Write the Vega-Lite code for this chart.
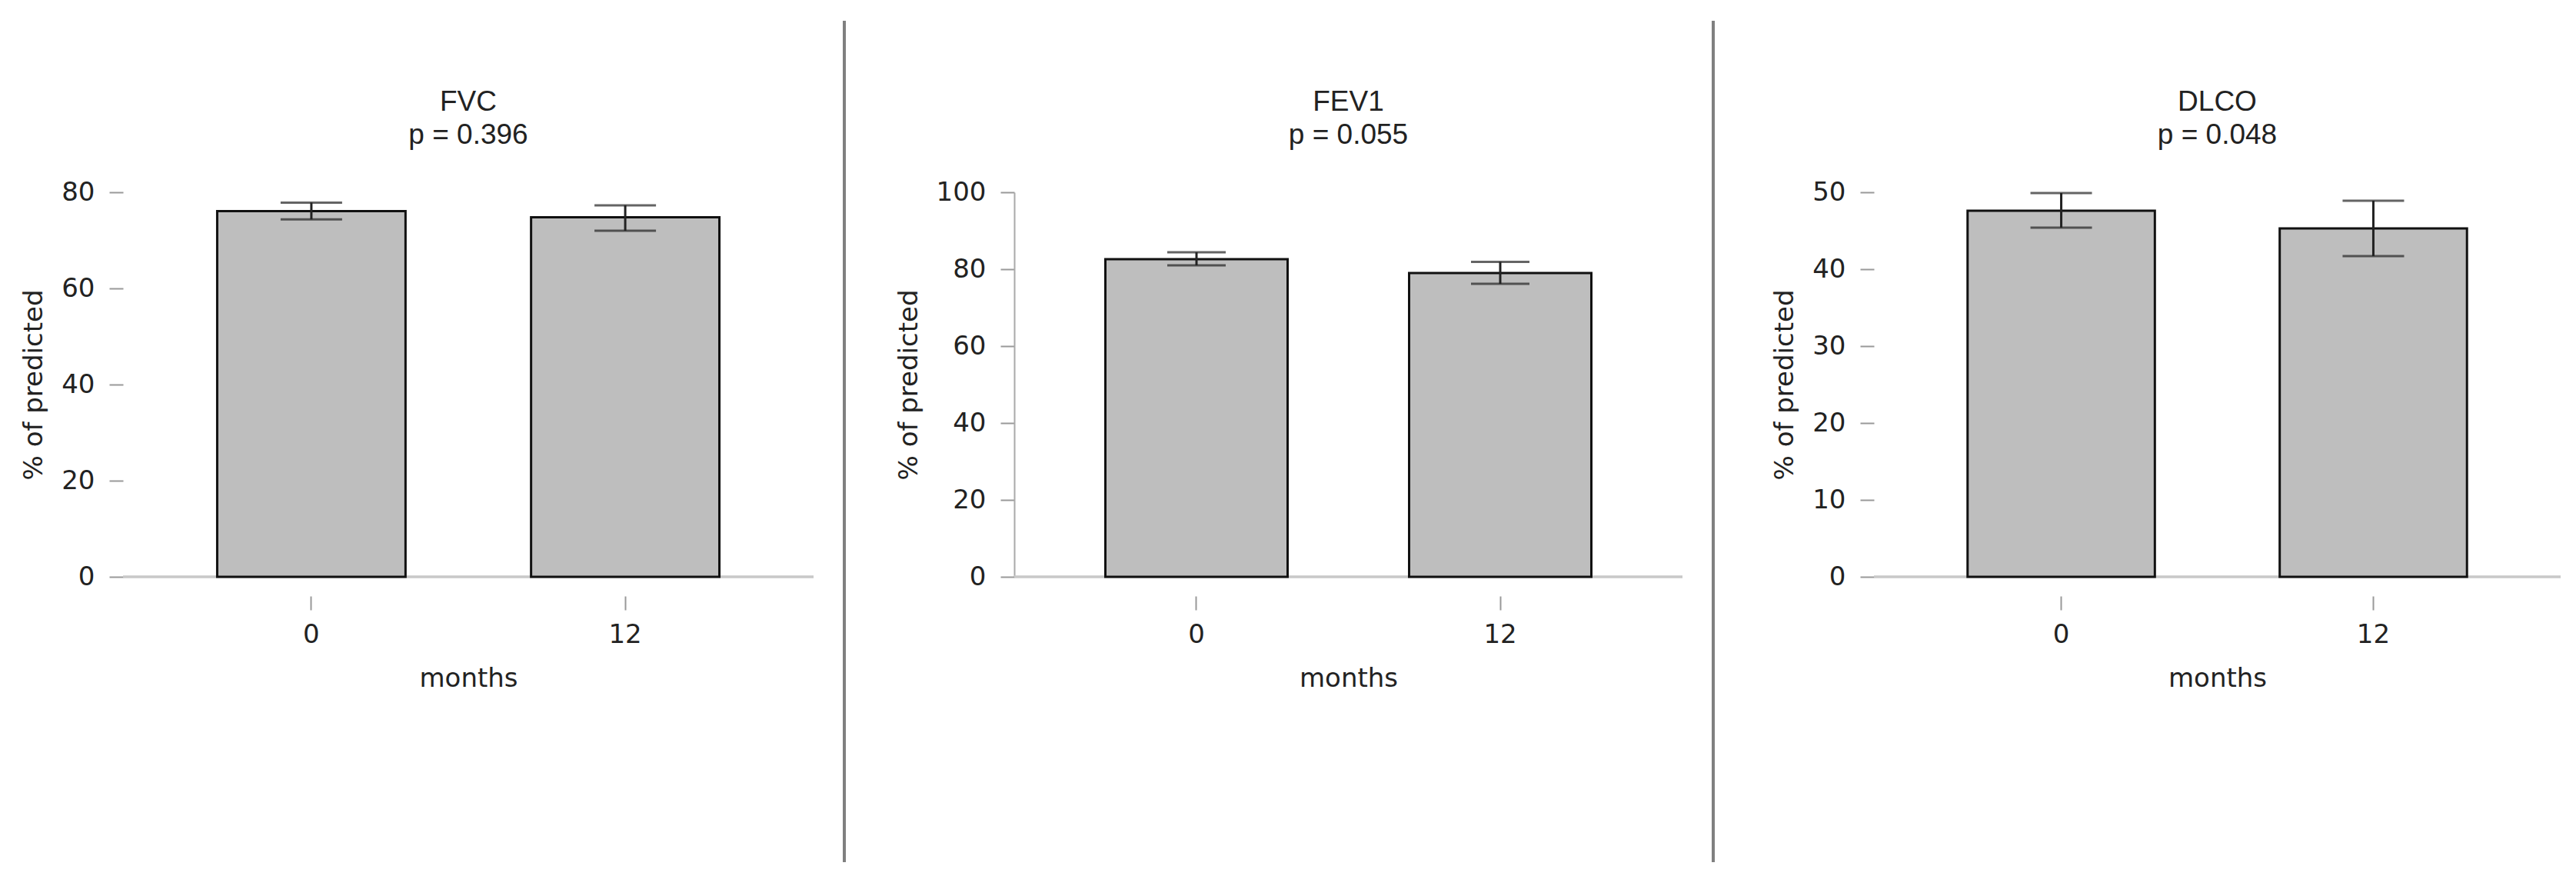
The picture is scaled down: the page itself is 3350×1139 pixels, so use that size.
{
  "$schema": "https://vega.github.io/schema/vega-lite/v6.json",
  "background": "white",
  "padding": {"left": 27, "top": 25, "right": 0, "bottom": 0},
  "bounds": "flush",
  "spacing": 40,
  "datasets": {
    "d": [
      {"measure": "FVC", "month": "0", "mean": 76.1, "lo": 74.35, "hi": 77.85},
      {"measure": "FVC", "month": "12", "mean": 74.8, "lo": 72.0, "hi": 77.3},
      {"measure": "FEV1", "month": "0", "mean": 82.6, "lo": 81.0, "hi": 84.4},
      {"measure": "FEV1", "month": "12", "mean": 79.0, "lo": 76.2, "hi": 81.9},
      {"measure": "DLCO", "month": "0", "mean": 47.6, "lo": 45.4, "hi": 49.9},
      {"measure": "DLCO", "month": "12", "mean": 45.3, "lo": 41.7, "hi": 48.9}
    ]
  },
  "hconcat": [
    {
      "width": 898, "height": 500,
      "title": {"text": ["FVC", "p = 0.396"]},
      "data": {"name": "d"},
      "transform": [{"filter": "datum.measure === 'FVC'"}],
      "layer": [
        {"mark": {"type": "rule", "color": "#c8c8c8", "strokeWidth": 3},
         "encoding": {"y": {"datum": 0, "type": "quantitative", "scale": {"domain": [0, 80], "nice": false}, "title": "% of predicted"}}},
        {"mark": {"type": "bar", "fill": "#bebebe", "stroke": "#111", "strokeWidth": 3},
         "encoding": {
           "x": {"field": "month", "type": "ordinal", "sort": ["0", "12"], "scale": {"paddingInner": 0.4, "paddingOuter": 0.3}, "title": "months"},
           "y": {"field": "mean", "type": "quantitative", "scale": {"domain": [0, 80], "nice": false}, "title": "% of predicted", "axis": {"values": [0, 20, 40, 60, 80], "domain": false}}}},
        {"mark": {"type": "rule", "color": "#222", "strokeWidth": 3},
         "encoding": {"x": {"field": "month", "type": "ordinal", "sort": ["0", "12"], "title": "months"},
           "y": {"field": "lo", "type": "quantitative", "title": "% of predicted"}, "y2": {"field": "hi"}}},
        {"mark": {"type": "tick", "color": "#222", "size": 80, "thickness": 3},
         "encoding": {"x": {"field": "month", "type": "ordinal", "sort": ["0", "12"], "title": "months"},
           "y": {"field": "lo", "type": "quantitative", "title": "% of predicted"}}},
        {"mark": {"type": "tick", "color": "#222", "size": 80, "thickness": 3},
         "encoding": {"x": {"field": "month", "type": "ordinal", "sort": ["0", "12"], "title": "months"},
           "y": {"field": "hi", "type": "quantitative", "title": "% of predicted"}}}
      ]
    },
    {
      "width": 181, "height": 500,
      "data": {"values": [{}]},
      "mark": {"type": "rule", "color": "#808080", "strokeWidth": 4},
      "encoding": {
        "x": {"datum": 0, "type": "quantitative", "scale": {"domain": [0, 1]}, "axis": null},
        "y": {"datum": 1.446, "type": "quantitative", "scale": {"domain": [0, 1]}, "axis": null},
        "y2": {"datum": -0.742}
      }
    },
    {
      "width": 869, "height": 500,
      "title": {"text": ["FEV1", "p = 0.055"]},
      "data": {"name": "d"},
      "transform": [{"filter": "datum.measure === 'FEV1'"}],
      "layer": [
        {"mark": {"type": "rule", "color": "#c8c8c8", "strokeWidth": 3},
         "encoding": {"y": {"datum": 0, "type": "quantitative", "scale": {"domain": [0, 100], "nice": false}, "title": "% of predicted"}}},
        {"mark": {"type": "bar", "fill": "#bebebe", "stroke": "#111", "strokeWidth": 3},
         "encoding": {
           "x": {"field": "month", "type": "ordinal", "sort": ["0", "12"], "scale": {"paddingInner": 0.4, "paddingOuter": 0.3}, "title": "months"},
           "y": {"field": "mean", "type": "quantitative", "scale": {"domain": [0, 100], "nice": false}, "title": "% of predicted", "axis": {"values": [0, 20, 40, 60, 80, 100], "domain": true, "domainColor": "#aaa", "domainWidth": 2}}}},
        {"mark": {"type": "rule", "color": "#222", "strokeWidth": 3},
         "encoding": {"x": {"field": "month", "type": "ordinal", "sort": ["0", "12"], "title": "months"},
           "y": {"field": "lo", "type": "quantitative", "title": "% of predicted"}, "y2": {"field": "hi"}}},
        {"mark": {"type": "tick", "color": "#222", "size": 76, "thickness": 3},
         "encoding": {"x": {"field": "month", "type": "ordinal", "sort": ["0", "12"], "title": "months"},
           "y": {"field": "lo", "type": "quantitative", "title": "% of predicted"}}},
        {"mark": {"type": "tick", "color": "#222", "size": 76, "thickness": 3},
         "encoding": {"x": {"field": "month", "type": "ordinal", "sort": ["0", "12"], "title": "months"},
           "y": {"field": "hi", "type": "quantitative", "title": "% of predicted"}}}
      ]
    },
    {
      "width": 169, "height": 500,
      "data": {"values": [{}]},
      "mark": {"type": "rule", "color": "#808080", "strokeWidth": 4},
      "encoding": {
        "x": {"datum": 0, "type": "quantitative", "scale": {"domain": [0, 1]}, "axis": null},
        "y": {"datum": 1.446, "type": "quantitative", "scale": {"domain": [0, 1]}, "axis": null},
        "y2": {"datum": -0.742}
      }
    },
    {
      "width": 893, "height": 500,
      "title": {"text": ["DLCO", "p = 0.048"]},
      "data": {"name": "d"},
      "transform": [{"filter": "datum.measure === 'DLCO'"}],
      "layer": [
        {"mark": {"type": "rule", "color": "#c8c8c8", "strokeWidth": 3},
         "encoding": {"y": {"datum": 0, "type": "quantitative", "scale": {"domain": [0, 50], "nice": false}, "title": "% of predicted"}}},
        {"mark": {"type": "bar", "fill": "#bebebe", "stroke": "#111", "strokeWidth": 3},
         "encoding": {
           "x": {"field": "month", "type": "ordinal", "sort": ["0", "12"], "scale": {"paddingInner": 0.4, "paddingOuter": 0.3}, "title": "months"},
           "y": {"field": "mean", "type": "quantitative", "scale": {"domain": [0, 50], "nice": false}, "title": "% of predicted", "axis": {"values": [0, 10, 20, 30, 40, 50], "domain": false}}}},
        {"mark": {"type": "rule", "color": "#222", "strokeWidth": 3},
         "encoding": {"x": {"field": "month", "type": "ordinal", "sort": ["0", "12"], "title": "months"},
           "y": {"field": "lo", "type": "quantitative", "title": "% of predicted"}, "y2": {"field": "hi"}}},
        {"mark": {"type": "tick", "color": "#222", "size": 80, "thickness": 3},
         "encoding": {"x": {"field": "month", "type": "ordinal", "sort": ["0", "12"], "title": "months"},
           "y": {"field": "lo", "type": "quantitative", "title": "% of predicted"}}},
        {"mark": {"type": "tick", "color": "#222", "size": 80, "thickness": 3},
         "encoding": {"x": {"field": "month", "type": "ordinal", "sort": ["0", "12"], "title": "months"},
           "y": {"field": "hi", "type": "quantitative", "title": "% of predicted"}}}
      ]
    }
  ],
  "config": {
    "view": {"stroke": null},
    "title": {"font": "Liberation Sans", "fontSize": 37, "fontWeight": "normal", "color": "#222", "offset": 38, "lineHeight": 43, "anchor": "middle"},
    "axis": {
      "grid": false,
      "labelFont": "DejaVu Sans", "labelFontSize": 34, "labelColor": "#222",
      "titleFont": "DejaVu Sans", "titleFontSize": 34, "titleFontWeight": "normal", "titleColor": "#222",
      "tickColor": "#999", "tickWidth": 2, "tickSize": 18
    },
    "axisY": {"labelPadding": 19, "titlePadding": 18},
    "axisX": {"domain": false, "offset": 25, "labelPadding": 15, "labelAngle": 0, "titlePadding": 23}
  }
}
